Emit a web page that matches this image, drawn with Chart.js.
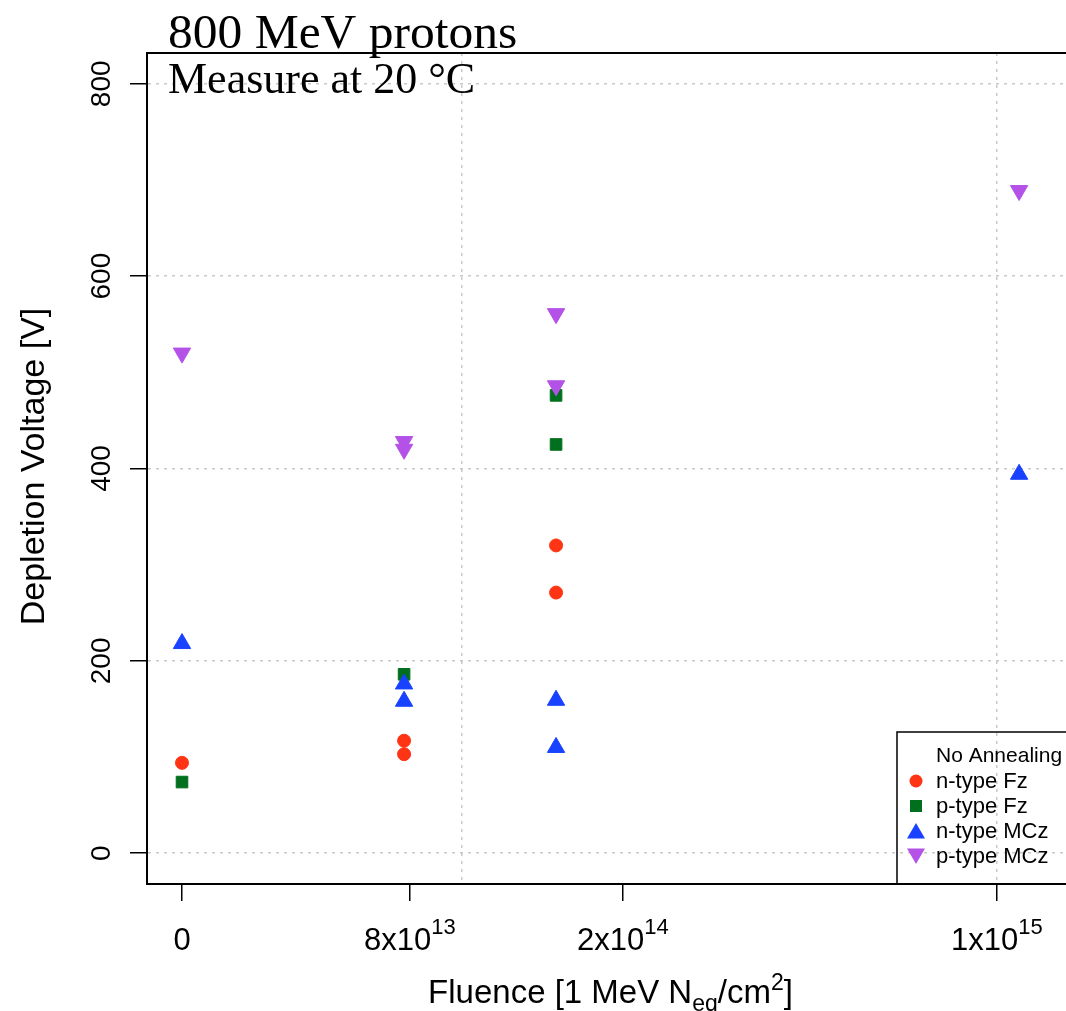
<!DOCTYPE html>
<html>
<head>
<meta charset="utf-8">
<script src="https://cdn.jsdelivr.net/npm/chart.js@4.4.1/dist/chart.umd.min.js"></script>
<style>
  html, body { margin: 0; padding: 0; background: #fff; overflow: hidden; }
  #wrap { width: 1066px; height: 1011px; position: relative; }
</style>
</head>
<body>
<div id="wrap"><canvas id="chartCanva"></canvas></div>
<script>
// fluence 0 can't sit on a log axis, so it is drawn at 3e13 (labelled "0")
const ZERO_AT = 3e13;

const fluenceNFz = [0, 7.8e13, 7.8e13, 1.5e14, 1.5e14];
const voltNFz = [94, 117, 103, 320, 271];
const fluencePFz = [0, 7.8e13, 1.5e14, 1.5e14];
const voltPFz = [74, 186, 476, 425];
const fluenceNMCz = [0, 7.8e13, 7.8e13, 1.5e14, 1.5e14, 1.1e15];
const voltNMCz = [218, 176, 158, 159, 110, 394];
const fluencePMCz = [0, 7.8e13, 7.8e13, 1.5e14, 1.5e14, 1.1e15];
const voltPMCz = [520, 428, 420, 561, 486, 689];

const xTickValues = [0, 8e13, 2e14, 1e15];
const xTickLabels = ['0', '8x10^13', '2x10^14', '1x10^15'];
const xGridValues = [1e14, 1e15];
const yTickValues = [0, 200, 400, 600, 800];

const SANS = '"Liberation Sans", Arial, Helvetica, sans-serif';
const SERIF = '"Liberation Serif", "Times New Roman", serif';

function pts(xs, ys) {
    return xs.map((f, i) => ({ x: f === 0 ? ZERO_AT : f, y: ys[i] }))
}

const datasets = [
    { label: 'n-type Fz', data: pts(fluenceNFz, voltNFz), pointStyle: 'circle', pointRadius: 6.5,
      backgroundColor: '#ff3414', borderColor: '#ff3414', order: 4 },
    { label: 'p-type Fz', data: pts(fluencePFz, voltPFz), pointStyle: 'rect', pointRadius: 8.2,
      backgroundColor: '#00701e', borderColor: '#00701e', order: 3 },
    { label: 'n-type MCz', data: pts(fluenceNMCz, voltNMCz), pointStyle: 'triangle', pointRadius: 10,
      backgroundColor: '#1842ff', borderColor: '#1842ff', order: 2 },
    { label: 'p-type MCz', data: pts(fluencePMCz, voltPMCz), pointStyle: 'triangle', pointRotation: 180, pointRadius: 10,
      backgroundColor: '#b452e8', borderColor: '#b452e8', order: 1 }
];

const xTickPos = xTickValues.map(v => v === 0 ? ZERO_AT : v);

function richText(ctx, parts, x, y) {
    let w = 0;
    parts.forEach(p => {
        ctx.font = p.size + 'px ' + SANS;
        p.w = ctx.measureText(p.t).width;
        w += p.w;
    });
    let cx = x - w / 2;
    ctx.textAlign = 'left';
    ctx.textBaseline = 'alphabetic';
    parts.forEach(p => {
        ctx.font = p.size + 'px ' + SANS;
        ctx.fillText(p.t, cx, y + (p.dy || 0));
        cx += p.w;
    });
}

function legendMark(ctx, style, x, y, color) {
    ctx.fillStyle = color;
    ctx.beginPath();
    if (style === 'circle') {
        ctx.arc(x, y, 6.5, 0, Math.PI * 2);
    } else if (style === 'rect') {
        ctx.rect(x - 6, y - 6, 12, 12);
    } else if (style === 'up') {
        ctx.moveTo(x, y - 8); ctx.lineTo(x + 9, y + 7.5); ctx.lineTo(x - 9, y + 7.5);
    } else {
        ctx.moveTo(x, y + 8); ctx.lineTo(x + 9, y - 7.5); ctx.lineTo(x - 9, y - 7.5);
    }
    ctx.closePath();
    ctx.fill();
}

const decor = {
    id: 'decor',
    afterDraw(chart) {
        const ctx = chart.ctx, a = chart.chartArea;
        const xs = chart.scales.x, ys = chart.scales.y;
        ctx.save();

        // top edge of the box
        ctx.strokeStyle = '#000';
        ctx.lineWidth = 2;
        ctx.beginPath();
        ctx.moveTo(a.left - 1, a.top);
        ctx.lineTo(a.right, a.top);
        ctx.stroke();

        ctx.fillStyle = '#000';

        // x tick labels
        xTickValues.forEach((v, i) => {
            const px = xs.getPixelForValue(xTickPos[i]);
            const bits = xTickLabels[i].split('^');
            const parts = [{ t: bits[0], size: 31 }];
            if (bits[1]) parts.push({ t: bits[1], size: 22, dy: -16 });
            richText(ctx, parts, px, 950);
        });

        // y tick labels, rotated like the axis
        ctx.font = '28px ' + SANS;
        ctx.textAlign = 'center';
        ctx.textBaseline = 'alphabetic';
        yTickValues.forEach(v => {
            ctx.save();
            ctx.translate(110, ys.getPixelForValue(v));
            ctx.rotate(-Math.PI / 2);
            ctx.fillText(String(v), 0, 0);
            ctx.restore();
        });

        // axis titles
        richText(ctx, [
            { t: 'Fluence [1 MeV N', size: 33 },
            { t: 'eq', size: 23, dy: 8 },
            { t: '/cm', size: 33 },
            { t: '2', size: 23, dy: -13 },
            { t: ']', size: 33 }
        ], (a.left + a.right) / 2 + 4, 1003);

        ctx.save();
        ctx.font = '34px ' + SANS;
        ctx.textAlign = 'center';
        ctx.translate(44, (a.top + a.bottom) / 2 - 2);
        ctx.rotate(-Math.PI / 2);
        ctx.fillText('Depletion Voltage [V]', 0, 0);
        ctx.restore();

        // titles
        ctx.textAlign = 'left';
        ctx.font = '49.5px ' + SERIF;
        ctx.fillText('800 MeV protons', 168, 48);
        ctx.font = '44px ' + SERIF;
        ctx.fillText('Measure at 20 \u00B0C', 168, 93);

        // legend
        ctx.lineWidth = 1.5;
        ctx.strokeStyle = '#000';
        ctx.strokeRect(897, 732, 200, 152);
        ctx.fillStyle = '#000';
        ctx.font = '21px ' + SANS;
        ctx.fillText('No Annealing', 936, 762);
        const marks = ['circle', 'rect', 'up', 'down'];
        chart.data.datasets.forEach((ds, i) => {
            const cy = 781 + i * 25;
            legendMark(ctx, marks[i], 916, cy, ds.backgroundColor);
            ctx.fillStyle = '#000';
            ctx.font = '22px ' + SANS;
            ctx.fillText(ds.label, 936, cy + 7);
        });

        ctx.restore();
    }
};

const gridGray = '#c8c8c8';
const clear = 'rgba(0,0,0,0)';

const config = {
    type: 'scatter',
    data: { datasets: datasets },
    options: {
        responsive: true,
        maintainAspectRatio: false,
        animation: false,
        layout: { autoPadding: false, padding: { top: 53, left: 0, right: 0, bottom: 0 } },
        elements: { point: { borderWidth: 1 } },
        plugins: {
            legend: { display: false },
            tooltip: { enabled: false }
        },
        scales: {
            x: {
                type: 'logarithmic',
                min: Math.pow(10, 13.4117),
                max: Math.pow(10, 15.129),
                afterBuildTicks: (s) => {
                    s.ticks = xTickPos.concat([1e14]).sort((p, q) => p - q).map(v => ({ value: v }));
                },
                afterFit: (s) => { s.height = 127; },
                ticks: { display: false },
                grid: {
                    color: (c) => (c.tick && xGridValues.includes(c.tick.value)) ? gridGray : clear,
                    lineWidth: 1.5,
                    tickLength: 17,
                    tickWidth: 1.5,
                    tickColor: (c) => (c.tick && xTickPos.includes(c.tick.value)) ? '#000' : clear
                },
                border: { display: true, color: '#000', width: 2, dash: [3, 5] }
            },
            y: {
                type: 'linear',
                min: -32,
                max: 832,
                afterBuildTicks: (s) => {
                    s.ticks = yTickValues.map(v => ({ value: v }));
                },
                afterFit: (s) => { s.width = 147; },
                ticks: { display: false },
                grid: {
                    color: gridGray,
                    lineWidth: 1.5,
                    tickLength: 17,
                    tickWidth: 1.5,
                    tickColor: '#000'
                },
                border: { display: true, color: '#000', width: 2, dash: [3, 5] }
            }
        }
    },
    plugins: [decor]
};

const myChart = new Chart(document.getElementById('chartCanva'), config);
</script>
</body>
</html>
